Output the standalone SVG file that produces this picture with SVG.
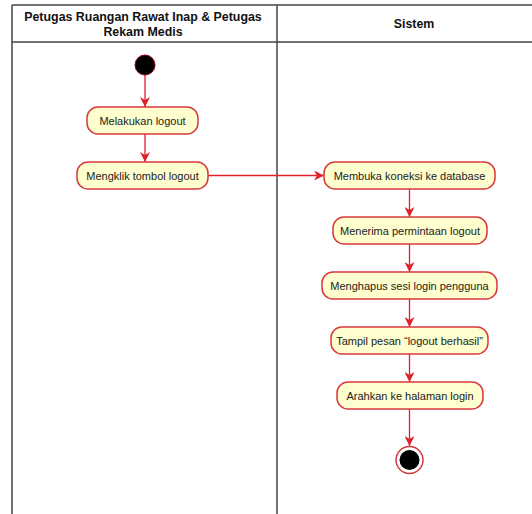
<svg xmlns="http://www.w3.org/2000/svg" width="532" height="514" viewBox="0 0 532 514">
<defs>
<style>
.lane{stroke:#444;stroke-width:1.5;fill:none}
.hdr{font-family:"Liberation Sans",Arial,sans-serif;font-size:12.4px;font-weight:bold;fill:#111;text-anchor:middle}
.box{fill:#FEFECE;stroke:#D8393F;stroke-width:1.5}
.lbl{font-family:"Liberation Sans",Arial,sans-serif;font-size:11px;fill:#222;text-anchor:middle}
.edge{stroke:#E0202A;stroke-width:1.3;fill:none}
</style>
<marker id="ah" viewBox="0 0 10 10" refX="10" refY="5" markerWidth="10" markerHeight="10" markerUnits="userSpaceOnUse" orient="auto">
<path d="M0,0 L10,5 L0,10 L3,5 Z" fill="#E0202A"/>
</marker>
</defs>
<rect width="532" height="514" fill="#fff"/>
<g id="swimlanes">
<line class="lane" x1="12" y1="5" x2="532" y2="5"/>
<line class="lane" x1="12" y1="42" x2="532" y2="42"/>
<line class="lane" x1="12" y1="5" x2="12" y2="514"/>
<line class="lane" x1="277" y1="5" x2="277" y2="514"/>
<text class="hdr" x="143" y="21">Petugas Ruangan Rawat Inap &amp; Petugas</text>
<text class="hdr" x="143" y="36">Rekam Medis</text>
<text class="hdr" x="414" y="28">Sistem</text>
</g>
<g id="connectors">
<line class="edge" x1="145" y1="75" x2="145" y2="107" marker-end="url(#ah)"/>
<line class="edge" x1="145" y1="134" x2="145" y2="162" marker-end="url(#ah)"/>
<line class="edge" x1="208" y1="175.5" x2="324" y2="175.5" marker-end="url(#ah)"/>
<line class="edge" x1="409.5" y1="189" x2="409.5" y2="217" marker-end="url(#ah)"/>
<line class="edge" x1="409.5" y1="244" x2="409.5" y2="272" marker-end="url(#ah)"/>
<line class="edge" x1="409.5" y1="299" x2="409.5" y2="327" marker-end="url(#ah)"/>
<line class="edge" x1="409.5" y1="354" x2="409.5" y2="382" marker-end="url(#ah)"/>
<line class="edge" x1="409.5" y1="409" x2="409.5" y2="446" marker-end="url(#ah)"/>
</g>
<g id="start">
<circle cx="145" cy="65" r="10" fill="#000" stroke="#8B0015" stroke-width="1"/>
</g>
<g id="melakukan-logout">
<rect class="box" x="87" y="107" width="111" height="27" rx="11"/>
<text class="lbl" x="142.5" y="124.5">Melakukan logout</text>
</g>
<g id="mengklik-tombol-logout">
<rect class="box" x="77" y="162" width="131" height="27" rx="11"/>
<text class="lbl" x="142.5" y="179.5">Mengklik tombol logout</text>
</g>
<g id="membuka-koneksi">
<rect class="box" x="324" y="162" width="171" height="27" rx="11"/>
<text class="lbl" x="409.5" y="179.5">Membuka koneksi ke database</text>
</g>
<g id="menerima-permintaan">
<rect class="box" x="333" y="217" width="154" height="27" rx="11"/>
<text class="lbl" x="410" y="234.5">Menerima permintaan logout</text>
</g>
<g id="menghapus-sesi">
<rect class="box" x="322" y="272" width="175" height="27" rx="11"/>
<text class="lbl" x="409.5" y="289.5">Menghapus sesi login pengguna</text>
</g>
<g id="tampil-pesan">
<rect class="box" x="331" y="327" width="157" height="27" rx="11"/>
<text class="lbl" x="409.5" y="344.5">Tampil pesan “logout berhasil”</text>
</g>
<g id="arahkan-login">
<rect class="box" x="337" y="382" width="146" height="27" rx="11"/>
<text class="lbl" x="410" y="399.5">Arahkan ke halaman login</text>
</g>
<g id="end">
<circle cx="409.5" cy="460" r="13.5" fill="#fff" stroke="#D8393F" stroke-width="1.5"/>
<circle cx="409.5" cy="460" r="10" fill="#000"/>
</g>
</svg>
